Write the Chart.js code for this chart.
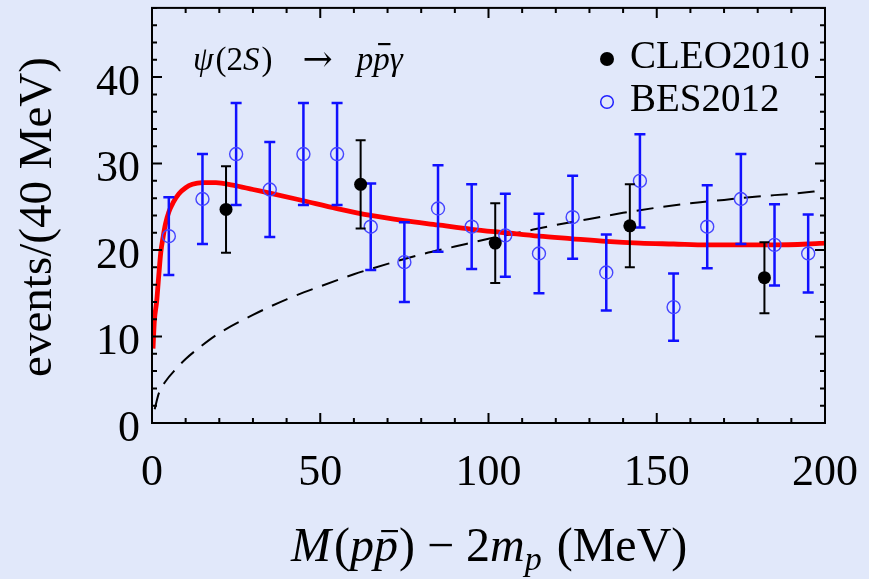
<!DOCTYPE html>
<html>
<head>
<meta charset="utf-8">
<script src="https://cdn.jsdelivr.net/npm/chart.js@4.4.1/dist/chart.umd.min.js"></script>
<style>
  html, body { margin: 0; padding: 0; background: #e1e8fa; }
  #wrap { width: 869px; height: 579px; }
</style>
</head>
<body>
<div id="wrap"><canvas id="chart" width="869" height="579"></canvas></div>
<script>
const xTicks = [0, 50, 100, 150, 200]
const yTicks = [0, 10, 20, 30, 40]

// CLEO2010, 40 MeV bins
const cleoX = [22, 62, 102, 142, 182]
const cleoY = [24.7, 27.6, 20.8, 22.8, 16.8]
const cleoErr = [5.0, 5.1, 4.6, 4.8, 4.1]

// BES2012, 10 MeV bins
const besX = [5, 15, 25, 35, 45, 55, 65, 75, 85, 95, 105, 115, 125, 135, 145, 155, 165, 175, 185, 195]
const besY = [21.6, 25.9, 31.1, 27.0, 31.1, 31.1, 22.7, 18.6, 24.8, 22.7, 21.7, 19.6, 23.8, 17.4, 28.0, 13.4, 22.7, 25.9, 20.6, 19.6]
const besErr = [4.5, 5.2, 5.9, 5.5, 5.9, 5.9, 5.0, 4.6, 5.0, 4.9, 4.8, 4.6, 4.8, 4.4, 5.4, 3.9, 4.8, 5.2, 4.7, 4.5]

// fit curve (red) and phase space (dashed)
const fitX = [0.3, 0.7, 1.4, 2, 2.6, 3.3, 4, 5, 6.3, 8, 10, 12, 15, 19, 24, 30, 36, 45, 55, 65, 75, 85, 95, 105, 115, 125, 135, 145, 155, 165, 175, 185, 195, 200]
const fitY = [8.6, 11.8, 14.1, 17.0, 19.7, 21.5, 23.0, 24.4, 25.5, 26.5, 27.2, 27.6, 27.8, 27.8, 27.5, 27.0, 26.5, 25.7, 24.8, 24.0, 23.4, 22.9, 22.4, 22.0, 21.6, 21.3, 21.0, 20.8, 20.7, 20.6, 20.6, 20.6, 20.7, 20.8]
const psX = [0.8, 2, 4, 7, 10, 14, 20, 30, 40, 50, 60, 70, 80, 90, 100, 110, 120, 130, 140, 150, 160, 170, 180, 190, 200]
const psY = [1.6, 3.4, 4.8, 6.2, 7.4, 8.7, 10.4, 12.5, 14.3, 15.8, 17.2, 18.4, 19.5, 20.4, 21.3, 22.1, 22.9, 23.6, 24.3, 24.9, 25.4, 25.8, 26.2, 26.5, 26.9]

const BG = '#e1e8fa'
const FONT = '"Liberation Serif", "DejaVu Serif", serif'

const pts = (xs, ys) => xs.map((x, i) => ({ x: x, y: ys[i] }))

const bgPlugin = {
  id: 'bg',
  beforeDraw(chart) {
    const c = chart.ctx
    c.save()
    c.fillStyle = BG
    c.fillRect(0, 0, chart.width, chart.height)
    c.restore()
  }
}

const errorBars = {
  id: 'errorBars',
  beforeDatasetDraw(chart, args) {
    const ds = chart.data.datasets[args.index]
    if (!ds.errors) return
    const c = chart.ctx
    const ys = chart.scales.y
    c.save()
    c.strokeStyle = ds.barColor
    c.lineWidth = ds.barWidth
    args.meta.data.forEach((el, i) => {
      const v = ds.data[i].y
      const top = ys.getPixelForValue(v + ds.errors[i])
      const bot = ys.getPixelForValue(v - ds.errors[i])
      const h = ds.capHalf
      c.beginPath()
      c.moveTo(el.x, top); c.lineTo(el.x, bot)
      c.moveTo(el.x - h, top); c.lineTo(el.x + h, top)
      c.moveTo(el.x - h, bot); c.lineTo(el.x + h, bot)
      c.stroke()
    })
    c.restore()
  }
}

// lays out text pieces one after the other; gap = space before the piece
function drawSegs(c, x, base, segs) {
  segs.forEach(s => {
    x += s.gap || 0
    c.font = (s.it ? 'italic ' : '') + s.size + 'px ' + (s.fam || FONT)
    const w = c.measureText(s.t).width
    c.fillText(s.t, x, base + (s.dy || 0))
    if (s.bar) c.fillRect(x + w * s.bar[0], base - s.bar[2], w * (s.bar[1] - s.bar[0]), 2.2)
    x += w
  })
  return x
}

const frame = {
  id: 'frame',
  afterDraw(chart) {
    const c = chart.ctx
    const a = chart.chartArea
    const xs = chart.scales.x, ys = chart.scales.y
    c.save()
    c.strokeStyle = '#000'
    c.lineWidth = 2
    c.beginPath()
    for (let v = 0; v <= 200; v += 10) {
      const px = xs.getPixelForValue(v)
      const len = v % 50 === 0 ? 10 : 5
      c.moveTo(px, a.bottom); c.lineTo(px, a.bottom - len)
      c.moveTo(px, a.top); c.lineTo(px, a.top + len)
    }
    for (let v = 0; v <= 48; v += 2) {
      const py = ys.getPixelForValue(v)
      const len = v % 10 === 0 ? 10 : 5
      c.moveTo(a.left, py); c.lineTo(a.left + len, py)
      c.moveTo(a.right, py); c.lineTo(a.right - len, py)
    }
    c.stroke()
    c.strokeRect(a.left, a.top, a.right - a.left, a.bottom - a.top)

    c.fillStyle = '#000'
    c.textAlign = 'left'
    c.textBaseline = 'alphabetic'

    // process label
    drawSegs(c, 193, 70, [
      { t: 'ψ', size: 33, it: true },
      { t: '(', size: 33, gap: 2 },
      { t: '2', size: 33 },
      { t: 'S', size: 33, it: true },
      { t: ')', size: 33, gap: 2 },
      { t: '→', size: 36, fam: '"DejaVu Serif"', gap: 30, dy: 1 },
      { t: 'p', size: 33, it: true, gap: 24 },
      { t: 'p', size: 33, it: true, bar: [0.3, 1.05, 27] },
      { t: 'γ', size: 33, it: true }
    ])

    // legend
    c.beginPath()
    c.arc(607, 59, 7, 0, Math.PI * 2)
    c.fill()
    c.beginPath()
    c.strokeStyle = '#2020ff'
    c.lineWidth = 1.5
    c.arc(607, 102, 6.3, 0, Math.PI * 2)
    c.stroke()
    c.font = '39px ' + FONT
    c.fillText('CLEO2010', 630, 68)
    c.fillText('BES2012', 630, 111)

    // x title
    drawSegs(c, 291, 561, [
      { t: 'M', size: 48, it: true },
      { t: '(', size: 48, gap: 3 },
      { t: 'p', size: 48, it: true },
      { t: 'p', size: 48, it: true, bar: [0.3, 1.0, 31] },
      { t: ')', size: 48, gap: 1 },
      { t: '\u2212', size: 48, gap: 12 },
      { t: '2', size: 48, gap: 12 },
      { t: 'm', size: 48, it: true },
      { t: 'p', size: 34, it: true, dy: 9 },
      { t: '(', size: 48, gap: 15 },
      { t: 'MeV', size: 48 },
      { t: ')', size: 48 }
    ])

    // y title
    c.translate(51, 217)
    c.rotate(-Math.PI / 2)
    c.textAlign = 'center'
    c.font = '47px ' + FONT
    c.fillText('events/(40 MeV)', 0, 0)
    c.restore()
  }
}

const tickFont = { family: FONT, size: 44 }

new Chart(document.getElementById('chart'), {
  type: 'scatter',
  data: {
    datasets: [
      {
        label: 'CLEO2010',
        data: pts(cleoX, cleoY),
        errors: cleoErr,
        barColor: '#000',
        barWidth: 2,
        capHalf: 5,
        pointStyle: 'circle',
        pointRadius: 6.5,
        backgroundColor: '#000',
        borderColor: '#000',
        borderWidth: 0,
        order: 0
      },
      {
        label: 'BES2012',
        data: pts(besX, besY),
        errors: besErr,
        barColor: '#1010ff',
        barWidth: 2.5,
        capHalf: 5.5,
        pointStyle: 'circle',
        pointRadius: 6.5,
        backgroundColor: 'rgba(0,0,0,0)',
        borderColor: '#4545ff',
        borderWidth: 1.4,
        order: 1
      },
      {
        label: 'fit',
        data: pts(fitX, fitY),
        showLine: true,
        pointRadius: 0,
        borderColor: '#ff0000',
        borderWidth: 4.8,
        cubicInterpolationMode: 'monotone',
        fill: false,
        order: 2
      },
      {
        label: 'phase space',
        data: pts(psX, psY),
        showLine: true,
        pointRadius: 0,
        borderColor: '#000',
        borderWidth: 2,
        borderDash: [17, 10],
        cubicInterpolationMode: 'monotone',
        fill: false,
        order: 3
      }
    ]
  },
  options: {
    responsive: false,
    animation: false,
    events: [],
    layout: { padding: { top: 7, right: 44, left: 0, bottom: 0 } },
    plugins: { legend: { display: false }, tooltip: { enabled: false } },
    scales: {
      x: {
        type: 'linear',
        min: 0,
        max: 200,
        grid: { display: false, drawTicks: false },
        border: { display: false },
        ticks: { font: tickFont, color: '#000', padding: 24, maxRotation: 0 },
        afterBuildTicks: s => { s.ticks = xTicks.map(v => ({ value: v })) },
        afterFit: s => {
          s.height = 156
          s.paddingLeft = 0
          s.paddingRight = 0
        }
      },
      y: {
        type: 'linear',
        min: 0,
        max: 48,
        grid: { display: false, drawTicks: false },
        border: { display: false },
        ticks: { font: tickFont, color: '#000', padding: 12, labelOffset: 6 },
        afterBuildTicks: s => { s.ticks = yTicks.map(v => ({ value: v })) },
        afterFit: s => {
          s.width = 152
          s.paddingTop = 0
          s.paddingBottom = 0
        }
      }
    }
  },
  plugins: [bgPlugin, errorBars, frame]
})
</script>
</body>
</html>
